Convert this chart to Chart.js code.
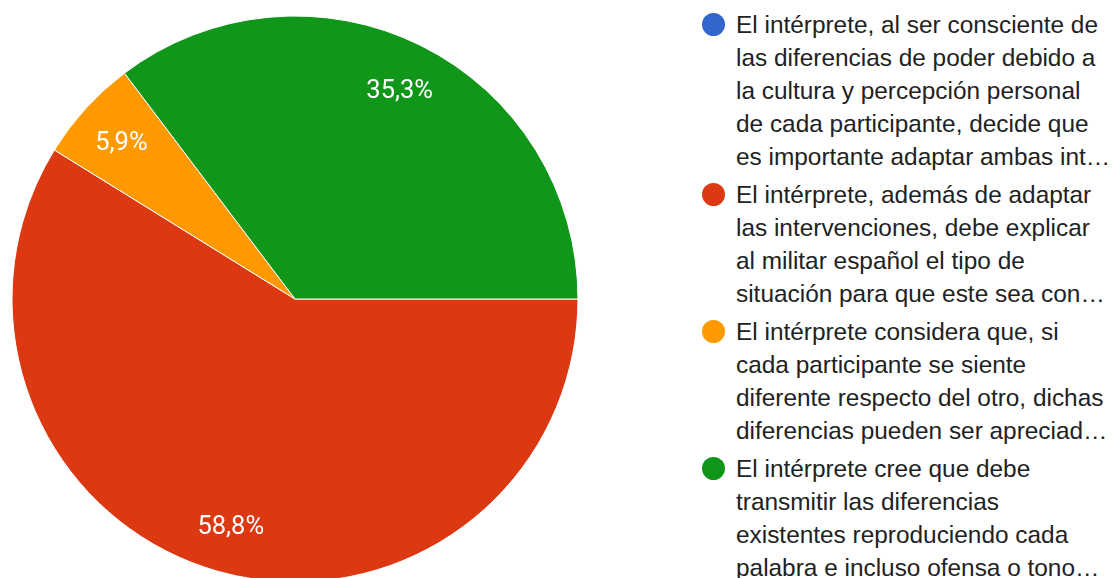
<!DOCTYPE html>
<html>
<head>
<meta charset="utf-8">
<script src="https://cdn.jsdelivr.net/npm/chart.js@4.4.1/dist/chart.umd.min.js"></script>
<style>
  html, body { margin: 0; padding: 0; background: #fff; overflow: hidden; width: 1112px; height: 578px; }
  #wrap { position: absolute; left: 0; top: 0; width: 591px; height: 600px; }
  #legend { position: absolute; left: 701px; top: 8px; width: 411px; font-family: "Liberation Sans", Arial, sans-serif; font-size: 24.4px; color: #222; }
  .item { position: relative; padding-left: 35px; margin-bottom: 5px; }
  .dot { position: absolute; left: 1px; top: 5px; width: 23px; height: 23px; border-radius: 50%; }
  .line { height: 33px; line-height: 33px; white-space: nowrap; }
</style>
</head>
<body>
<div id="wrap"><canvas id="c"></canvas></div>
<div id="legend"></div>
<script>
const categories = [
  ["El intérprete, al ser consciente de", "las diferencias de poder debido a", "la cultura y percepción personal", "de cada participante, decide que", "es importante adaptar ambas int…"],
  ["El intérprete, además de adaptar", "las intervenciones, debe explicar", "al militar español el tipo de", "situación para que este sea con…"],
  ["El intérprete considera que, si", "cada participante se siente", "diferente respecto del otro, dichas", "diferencias pueden ser apreciad…"],
  ["El intérprete cree que debe", "transmitir las diferencias", "existentes reproduciendo cada", "palabra e incluso ofensa o tono…"]
];
const responses = [0, 10, 1, 6];
const colors = ["#3366CC", "#DC3912", "#FF9900", "#109618"];

const labelPlugin = {
  id: 'sliceLabels',
  afterDatasetsDraw(chart) {
    const ctx = chart.ctx;
    const meta = chart.getDatasetMeta(0);
    const data = chart.data.datasets[0].data;
    const total = data.reduce((a, b) => a + b, 0);
    ctx.save();
    ctx.fillStyle = '#ffffff';
    ctx.font = '25.5px Roboto, Arial, sans-serif';
    ctx.textAlign = 'center';
    ctx.textBaseline = 'middle';
    meta.data.forEach((arc, i) => {
      const v = data[i];
      if (!v) return;
      const p = arc.getProps(['x', 'y', 'startAngle', 'endAngle', 'outerRadius'], true);
      const mid = (p.startAngle + p.endAngle) / 2;
      const r = p.outerRadius * 0.83;
      const txt = (v / total * 100).toFixed(1).replace('.', ',') + '%';
      ctx.fillText(txt, p.x + Math.cos(mid) * r, p.y + Math.sin(mid) * r + 3);
    });
    ctx.restore();
  }
};

const chart = new Chart(document.getElementById('c'), {
  type: 'pie',
  data: {
    labels: categories.map(l => l.join(' ')),
    datasets: [{
      data: responses,
      backgroundColor: colors,
      borderColor: '#ffffff',
      borderWidth: 1
    }]
  },
  options: {
    responsive: true,
    maintainAspectRatio: false,
    animation: false,
    rotation: 90,
    layout: { padding: { left: 11.5, top: 15.5, right: 12.5, bottom: 17.5 } },
    plugins: { legend: { display: false }, tooltip: { enabled: false } }
  },
  plugins: [labelPlugin]
});

const legend = document.getElementById('legend');
categories.forEach((lines, i) => {
  const item = document.createElement('div');
  item.className = 'item';
  const dot = document.createElement('span');
  dot.className = 'dot';
  dot.style.background = colors[i];
  item.appendChild(dot);
  lines.forEach(t => {
    const d = document.createElement('div');
    d.className = 'line';
    d.textContent = t;
    item.appendChild(d);
  });
  legend.appendChild(item);
});
</script>
</body>
</html>
